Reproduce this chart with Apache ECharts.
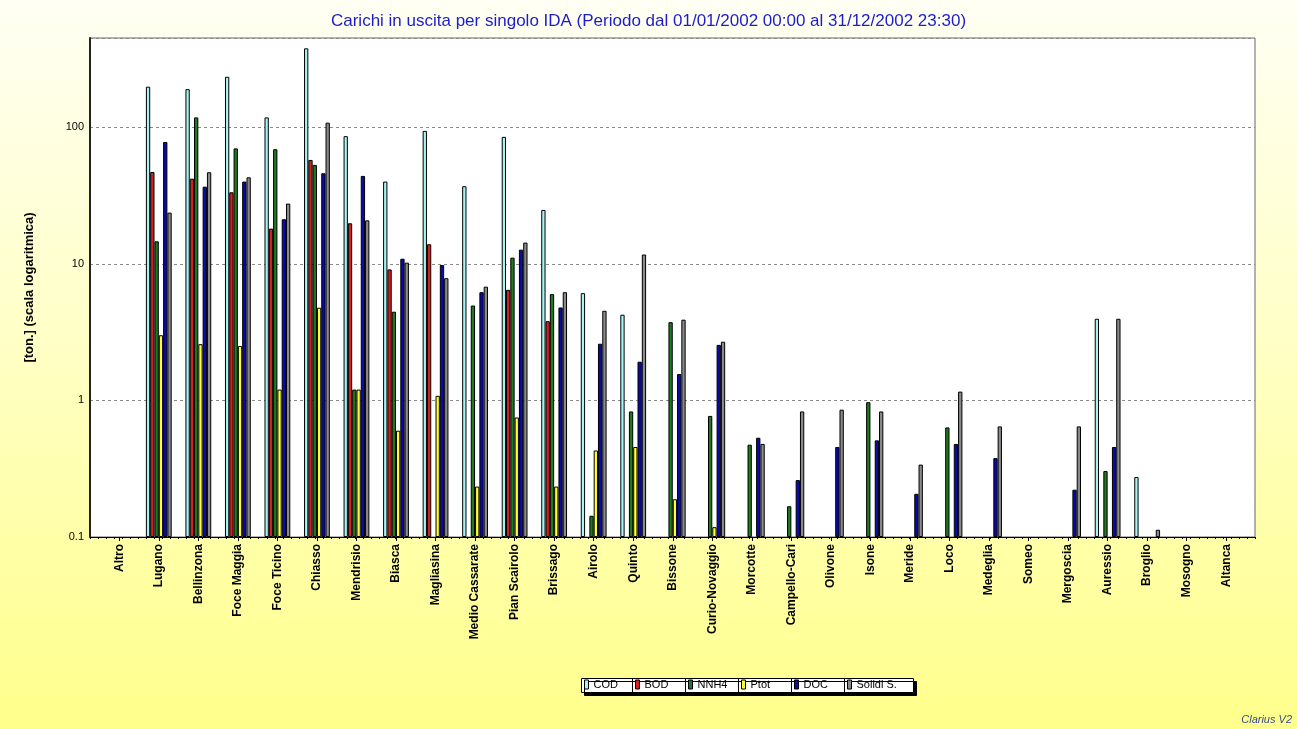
<!DOCTYPE html>
<html>
<head>
<meta charset="utf-8">
<script src="https://cdn.jsdelivr.net/npm/echarts@6/dist/echarts.min.js"></script>
<style>
  html, body { margin: 0; padding: 0; }
  #chart {
    width: 1297px;
    height: 729px;
    background: linear-gradient(to bottom, #fffff4 0%, #ffffc8 45%, #ffff8c 100%);
  }
</style>
</head>
<body>
<div id="chart"></div>
<script>
// impianti (IDA)
const categories = ['Altro', 'Lugano', 'Bellinzona', 'Foce Maggia', 'Foce Ticino', 'Chiasso', 'Mendrisio',
  'Biasca', 'Magliasina', 'Medio Cassarate', 'Pian Scairolo', 'Brissago', 'Airolo', 'Quinto', 'Bissone',
  'Curio-Novaggio', 'Morcotte', 'Campello-Cari', 'Olivone', 'Isone', 'Meride', 'Loco', 'Medeglia',
  'Someo', 'Mergoscia', 'Auressio', 'Broglio', 'Mosogno', 'Altanca']

// carichi in tonnellate (null = nessun valore)
const cod = [null, 198, 190, 234, 118, 378, 86, 40, 94, 37, 85, 24.8, 6.1, 4.24, null,
  null, null, null, null, null, null, null, null, null, null, 3.96, 0.275, null, null]
const bod = [null, 47, 42, 33.4, 18.1, 57.6, 19.8, 9.1, 13.9, null, 6.45, 3.8, null, null, null,
  null, null, null, null, null, null, null, null, null, null, null, null, null, null]
const nnh4 = [null, 14.6, 118, 70, 69, 53, 1.2, 4.46, null, 4.95, 11.1, 6.0, 0.143, 0.83, 3.74,
  0.77, 0.474, 0.168, null, 0.97, null, 0.634, null, null, null, 0.304, null, null, null]
const ptot = [null, 3.0, 2.58, 2.5, 1.2, 4.77, 1.2, 0.6, 1.08, 0.234, 0.75, 0.234, 0.43, 0.456, 0.189,
  0.118, null, null, null, null, null, null, null, null, null, null, null, null, null]
const doc = [null, 78, 36.7, 40, 21.2, 46, 44, 10.9, 9.8, 6.2, 12.7, 4.79, 2.6, 1.92, 1.56,
  2.55, 0.533, 0.261, 0.456, 0.51, 0.207, 0.48, 0.378, null, 0.222, 0.456, null, null, null]
const solidi = [null, 23.7, 46.8, 43, 27.6, 108, 20.8, 10.2, 7.85, 6.8, 14.3, 6.2, 4.53, 11.7, 3.9,
  2.69, 0.48, 0.83, 0.855, 0.83, 0.339, 1.16, 0.645, null, 0.645, 3.96, 0.113, null, null]

const seriesDefs = [
  { name: 'COD', data: cod, color: '#a8f4f4' },
  { name: 'BOD', data: bod, color: '#d42020' },
  { name: 'NNH4', data: nnh4, color: '#1f7a1f' },
  { name: 'Ptot', data: ptot, color: '#ffff30' },
  { name: 'DOC', data: doc, color: '#0a0aa8' },
  { name: 'Solidi S.', data: solidi, color: '#8a8a8a' }
]

const yMin = 0.1
const yMax = 450

const chart = echarts.init(document.getElementById('chart'))

// legenda a celle: bordi sinistri delle celle e bordo destro del riquadro
const cellLeft = [581, 632, 685, 738, 791, 844]
const boxRight = 913
const boxTop = 678
const boxBottom = 692

const legends = seriesDefs.map((s, i) => ({
  left: cellLeft[i] + 3,
  top: boxTop + 1,
  z: 10,
  padding: 0,
  itemWidth: 4,
  itemHeight: 9,
  icon: 'rect',
  itemStyle: { borderColor: '#000', borderWidth: 1 },
  textStyle: { fontSize: 11, color: '#000', padding: [1, 0, 0, 0] },
  data: [s.name]
}))

const legendBox = [
  {
    type: 'rect',
    z: 1,
    shape: { x: cellLeft[0] + 0.5, y: boxTop + 0.5, width: boxRight - cellLeft[0], height: boxBottom - boxTop },
    style: {
      fill: '#ffffff',
      stroke: '#000',
      lineWidth: 1,
      shadowColor: '#000',
      shadowOffsetX: 3,
      shadowOffsetY: 3,
      shadowBlur: 0
    }
  },
  ...cellLeft.slice(1).map(x => ({
    type: 'line',
    z: 2,
    shape: { x1: x + 0.5, y1: boxTop, x2: x + 0.5, y2: boxBottom },
    style: { stroke: '#000', lineWidth: 1 }
  }))
]

const option = {
  backgroundColor: 'transparent',
  textStyle: { fontFamily: 'Liberation Sans, Arial, sans-serif' },
  title: {
    text: 'Carichi in uscita per singolo IDA (Periodo dal 01/01/2002 00:00 al 31/12/2002 23:30)',
    left: 'center',
    top: 8,
    textStyle: { color: '#1c1ccc', fontSize: 17, fontWeight: 'normal' }
  },
  legend: legends,
  graphic: [
    ...legendBox,
    {
      type: 'text',
      right: 5,
      bottom: 4,
      style: {
        text: 'Clarius V2',
        fill: '#3a4a8a',
        font: 'italic 11px Liberation Sans, Arial, sans-serif'
      }
    }
  ],
  grid: [
    {
      // cornice dell'area del grafico
      left: 90,
      right: 42,
      top: 38,
      bottom: 192,
      show: true,
      backgroundColor: '#ffffff',
      borderColor: '#666',
      borderWidth: 1
    },
    {
      // area delle barre (con margine interno)
      left: 99.5,
      right: 51,
      top: 38,
      bottom: 192
    }
  ],
  xAxis: [
    {
      gridIndex: 0,
      type: 'category',
      position: 'bottom',
      data: categories,
      axisLine: { show: true, lineStyle: { color: '#000', width: 1 } },
      axisTick: { show: false },
      axisLabel: { show: false }
    },
    {
      gridIndex: 1,
      type: 'category',
      position: 'bottom',
      data: categories,
      axisLine: { show: false },
      axisTick: { show: true, alignWithLabel: true, length: 4, lineStyle: { color: '#000' } },
      axisLabel: {
        rotate: 90,
        interval: 0,
        color: '#000',
        fontWeight: 'bold',
        fontSize: 12,
        margin: 7
      }
    },
    {
      // tacche secondarie lungo l'asse x
      gridIndex: 0,
      type: 'value',
      position: 'bottom',
      min: 0,
      max: 145,
      interval: 1,
      axisLine: { show: false },
      axisTick: { show: true, length: 2, lineStyle: { color: '#000' } },
      axisLabel: { show: false },
      splitLine: { show: false }
    }
  ],
  yAxis: [
    {
      gridIndex: 0,
      type: 'log',
      logBase: 10,
      min: yMin,
      max: yMax,
      name: '[ton.] (scala logaritmica)',
      nameLocation: 'middle',
      nameGap: 54,
      nameTextStyle: { color: '#000', fontWeight: 'bold', fontSize: 13 },
      axisLine: { show: true, lineStyle: { color: '#222', width: 2 } },
      axisTick: { show: false },
      splitLine: { lineStyle: { color: '#8a8a8a', type: [3, 3], width: 1 } },
      axisLabel: {
        color: '#000',
        fontSize: 11,
        margin: 6,
        formatter: v => {
          const l = Math.log10(v)
          if (Math.abs(l - Math.round(l)) > 1e-6) return ''
          return v >= 1 ? String(Math.round(v)) : String(Math.round(v * 10) / 10)
        }
      }
    },
    {
      gridIndex: 1,
      type: 'log',
      logBase: 10,
      min: yMin,
      max: yMax,
      startValue: yMin,
      show: false,
      splitLine: { show: false }
    }
  ],
  series: seriesDefs.map(s => ({
    name: s.name,
    type: 'bar',
    xAxisIndex: 1,
    yAxisIndex: 1,
    data: s.data,
    barWidth: 4.3,
    barGap: '0%',
    itemStyle: { color: s.color, borderColor: '#000', borderWidth: 1 }
  }))
}

chart.setOption(option)
</script>
</body>
</html>
